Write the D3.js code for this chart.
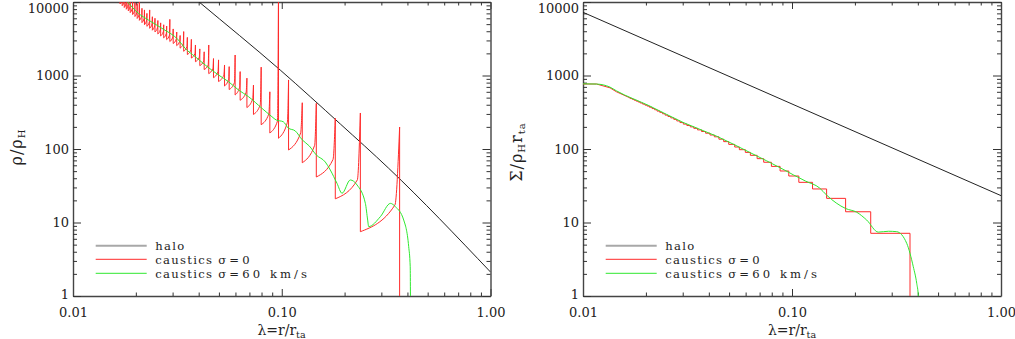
<!DOCTYPE html>
<html>
<head>
<meta charset="utf-8">
<script src="https://cdn.jsdelivr.net/npm/d3@7/dist/d3.min.js"></script>
<style>
  body { margin: 0; background: #fff; }
  svg text { font-family: "DejaVu Serif", serif; fill: #222; }
</style>
</head>
<body>
<svg id="chart" width="1015" height="339"></svg>
<script>
// ---- values ----
const xTickValues = [0.01, 0.1, 1];
const xTickLabels = ["0.01", "0.10", "1.00"];
const yTickValues = [1, 10, 100, 1000, 10000];
const yTickLabels = ["1", "10", "100", "1000", "10000"];
const legendLabels = ["halo", "caustics σ=0", "caustics σ=60 km/s"];

// left panel: rho / rho_H
const haloRhoLam = [0.035, 0.0402, 0.0983, 0.1908, 0.3243, 1.0];
const haloRho = [13900, 10000, 1188, 219, 55.1, 2.12];

// caustic radii, spike heights, value just outside each caustic, value shortly before the next spike
const causticLam = [0.0168, 0.0172, 0.0176, 0.018, 0.0184, 0.0188, 0.0193, 0.0198, 0.0203, 0.0208,
  0.0214, 0.022, 0.0226, 0.0233, 0.024, 0.0247, 0.0255, 0.0263, 0.0272, 0.0281,
  0.0291, 0.0302, 0.0314, 0.0326, 0.0339, 0.0353, 0.0369, 0.0386, 0.0405, 0.0425,
  0.0447, 0.0471, 0.0498, 0.0532, 0.056, 0.0598, 0.0632, 0.0681, 0.0732, 0.0797,
  0.0877, 0.0965, 0.1078, 0.1254, 0.1464, 0.1805, 0.238, 0.367];
const rhoSpikeTop = [14000, 13000, 12000, 11000, 12500, 11000, 10500, 9800, 9500, 13000,
  8200, 7800, 7000, 7800, 6300, 6000, 5600, 5200, 4900, 4700,
  5800, 4300, 3900, 3500, 3960, 3300, 3100, 2600, 2300, 2100,
  2600, 1700, 1630, 1390, 1320, 1900, 1130, 920, 740, 1300,
  600, 20000, 870, 426, 418, 262, 309, 199];
const rhoDropLow = [9400, 8900, 8420, 7970, 7560, 7175, 6745, 6347, 5975, 5630,
  5245, 4914, 4656, 4385, 4130, 3908, 3665, 3450, 3250, 3074,
  2897, 2723, 2546, 2357, 2135, 1930, 1727, 1541, 1361, 1205,
  1060, 933, 828, 719, 644, 543, 460, 366, 295, 214,
  165, 140, 97, 65, 41.6, 21, 7.5, 0.5];
const rhoPreSpike = [10800, 10200, 9700, 9150, 8700, 8250, 7760, 7300, 6870, 6470,
  6030, 5650, 5350, 5040, 4750, 4490, 4210, 3970, 3740, 3540,
  3330, 3130, 2930, 2710, 2460, 2220, 1990, 1770, 1570, 1390,
  1250, 1120, 1010, 890, 800, 690, 590, 480, 400, 300,
  240, 230, 165, 112, 72, 38, 17.3];

const smoothRhoLam = [0.01795, 0.02057, 0.02297, 0.02664, 0.03199, 0.03445, 0.03847, 0.04297, 0.04978, 0.05558,
  0.06208, 0.06932, 0.08035, 0.08974, 0.09411, 0.10167, 0.10744, 0.11611, 0.12543, 0.13549,
  0.14638, 0.16167, 0.17085, 0.18394, 0.19442, 0.21311, 0.22947, 0.25153, 0.25797, 0.26081,
  0.29674, 0.33151, 0.35031, 0.38393, 0.40561, 0.4125, 0.4135, 0.414];
const smoothRho = [10640, 7020, 5690, 4390, 3040, 2345, 1803, 1390, 1016, 824,
  635, 515, 358, 275, 248, 235, 193, 176, 133, 110,
  83, 66.5, 51.8, 34.1, 25.0, 37.9, 32.4, 18.2, 10.8, 8.8,
  12.0, 18.2, 16.4, 10.8, 4.7, 2.5, 1.0, 0.5];

// right panel: Sigma / (rho_H r_ta)
const haloSigLam = [0.01, 1.0];
const haloSig = [7240, 23.2];
const sigInnerLam = [0.01, 0.0116, 0.01346, 0.01443, 0.0168];
const sigInner = [766, 766, 680, 602, 495];
// plateau level between causticLam[i] and causticLam[i+1]
const sigStep = [488, 474, 460, 447, 435, 422, 408, 395, 383, 370,
  355, 342, 328, 315, 302, 289, 277, 265, 253, 241,
  229, 218, 209, 200, 191, 182, 173, 164, 155, 146.5,
  136, 126, 115.5, 106.4, 97.9, 89.9, 82.0, 73.9, 66.0, 58.0,
  50.2, 42.9, 35.2, 28.6, 21.3, 14.0, 7.13];
const smoothSigLam = [0.01, 0.0116, 0.01346, 0.01443, 0.02085, 0.0301, 0.04345, 0.0627, 0.0906, 0.1015,
  0.1163, 0.1355, 0.1466, 0.1805, 0.204, 0.2277, 0.2588, 0.29, 0.317, 0.3539,
  0.3805, 0.3951, 0.4022, 0.4035];
const smoothSig = [770, 765, 695, 620, 385, 230, 150, 90, 53, 44.5,
  36.5, 29.5, 23.5, 15.5, 13.8, 10.8, 7.4, 7.6, 7.5, 5.21,
  2.5, 1.49, 1.0, 0.5];

// ---- layout ----
const svg = d3.select("#chart");
const yTop = 2, yBot = 296;
const y = d3.scaleLog().domain([1, 10000]).range([yBot, yTop]);
const xL = d3.scaleLog().domain([0.01, 1]).range([73, 490.5]);
const xR = d3.scaleLog().domain([0.01, 1]).range([583, 1001]);

const colHalo = "#222", colRed = "#ff2a2a", colGreen = "#2fe82f";

const minorX = [];
xTickValues.slice(0, -1).forEach(d => { for (let m = 2; m < 10; m++) minorX.push(d * m); });
const minorY = [];
yTickValues.slice(0, -1).forEach(d => { for (let m = 2; m < 10; m++) minorY.push(d * m); });

function drawFrame(x) {
  const [x0, x1] = x.range();
  const g = svg.append("g");
  function ax(gen, tr, domain) {
    const a = g.append("g").attr("transform", tr).call(gen);
    a.selectAll(".tick line").attr("stroke", "#333");
    if (domain) a.select(".domain").attr("stroke", "#444").attr("stroke-width", 1.4);
    else a.select(".domain").remove();
    a.selectAll("text").style("font-family", '"DejaVu Serif", serif').style("font-size", "13px").attr("fill", "#222");
    return a;
  }
  ax(d3.axisBottom(x).tickValues(xTickValues).tickFormat((d, i) => xTickLabels[i])
    .tickSizeInner(-7).tickSizeOuter(0).tickPadding(11.5), `translate(0,${yBot})`, true);
  ax(d3.axisBottom(x).tickValues(minorX).tickFormat("").tickSizeInner(-3.5).tickSizeOuter(0), `translate(0,${yBot})`, false);
  ax(d3.axisTop(x).tickValues(xTickValues).tickFormat("").tickSizeInner(-7).tickSizeOuter(0), `translate(0,${yTop})`, true);
  ax(d3.axisTop(x).tickValues(minorX).tickFormat("").tickSizeInner(-3.5).tickSizeOuter(0), `translate(0,${yTop})`, false);
  const yl = ax(d3.axisLeft(y).tickValues(yTickValues).tickFormat((d, i) => yTickLabels[i])
    .tickSizeInner(-8).tickSizeOuter(0).tickPadding(4), `translate(${x0},0)`, true);
  // keep the end labels inside the frame, as in the original
  yl.selectAll(".tick text").attr("y", d => d === 10000 ? 6.5 : (d === 1 ? -2 : 0));
  ax(d3.axisLeft(y).tickValues(minorY).tickFormat("").tickSizeInner(-4).tickSizeOuter(0), `translate(${x0},0)`, false);
  ax(d3.axisRight(y).tickValues(yTickValues).tickFormat("").tickSizeInner(-8).tickSizeOuter(0), `translate(${x1},0)`, true);
  ax(d3.axisRight(y).tickValues(minorY).tickFormat("").tickSizeInner(-4).tickSizeOuter(0), `translate(${x1},0)`, false);
}

function plotArea(x, id) {
  const [x0, x1] = x.range();
  svg.append("clipPath").attr("id", id).append("rect")
    .attr("x", x0).attr("y", yTop).attr("width", x1 - x0).attr("height", yBot - yTop);
  return svg.append("g").attr("clip-path", `url(#${id})`);
}

function drawLegend(x) {
  const lx = x.range()[0] + 22.7;
  const rows = [245.7, 259.3, 273.3];
  const styles = [["#a8a8a8", 2], [colRed, 1], [colGreen, 1]];
  const g = svg.append("g");
  legendLabels.forEach((lab, i) => {
    g.append("line").attr("x1", lx).attr("x2", lx + 51).attr("y1", rows[i]).attr("y2", rows[i])
      .attr("stroke", styles[i][0]).attr("stroke-width", styles[i][1]);
    const t = g.append("text").attr("x", lx + 59.6).attr("y", rows[i] + 4.3)
      .style("font-size", "11.6px").style("letter-spacing", "1.3px");
    const parts = lab.split("σ");
    t.append("tspan").text(parts[0]);
    if (parts.length > 1) t.append("tspan").style("letter-spacing", "3.1px").text("σ" + parts[1]);
  });
}

function xTitle(cx) {
  const t = svg.append("text").attr("x", cx).attr("y", 334.5).attr("text-anchor", "middle").style("font-size", "14px");
  t.append("tspan").text("λ=r/r");
  t.append("tspan").attr("dy", 3).style("font-size", "9.5px").text("ta");
}

// ---- left panel ----
drawFrame(xL);
const gL = plotArea(xL, "clipL");
const lineLin = x => d3.line().x(d => x(d[0])).y(d => y(d[1]));
const lineMono = x => d3.line().x(d => x(d[0])).y(d => y(d[1])).curve(d3.curveMonotoneX);

gL.append("path").attr("d", lineMono(xL)(d3.zip(haloRhoLam, haloRho)))
  .attr("fill", "none").attr("stroke", colHalo).attr("stroke-width", 1);

let redD = "";
causticLam.forEach((lam, k) => {
  redD += lineLin(xL)([[lam, rhoSpikeTop[k]], [lam, rhoDropLow[k]]]);
  if (k < causticLam.length - 1) {
    const next = causticLam[k + 1];
    const preLam = Math.exp(Math.log(lam) + 0.88 * (Math.log(next) - Math.log(lam)));
    redD += lineMono(xL)([[lam, rhoDropLow[k]], [preLam, rhoPreSpike[k]], [next, rhoSpikeTop[k + 1]]]);
  }
});
gL.append("path").attr("d", redD).attr("fill", "none").attr("stroke", colRed).attr("stroke-width", 1);

gL.append("path").attr("d", lineMono(xL)(d3.zip(smoothRhoLam, smoothRho)))
  .attr("fill", "none").attr("stroke", colGreen).attr("stroke-width", 1);

drawLegend(xL);
xTitle(281.5);

const ytL = svg.append("text").attr("transform", "translate(22,147) rotate(-90)")
  .attr("text-anchor", "middle").style("font-size", "16px").style("letter-spacing", "1px");
ytL.append("tspan").text("ρ/ρ");
ytL.append("tspan").attr("dy", 3).style("font-size", "10px").text("H");

// ---- right panel ----
drawFrame(xR);
const gR = plotArea(xR, "clipR");

gR.append("path").attr("d", lineLin(xR)(d3.zip(haloSigLam, haloSig)))
  .attr("fill", "none").attr("stroke", colHalo).attr("stroke-width", 1);

const stairs = d3.zip(sigInnerLam, sigInner);
sigStep.forEach((lev, i) => {
  stairs.push([causticLam[i], lev]);
  stairs.push([causticLam[i + 1], lev]);
});
stairs.push([causticLam[causticLam.length - 1], 0.5]);
gR.append("path").attr("d", lineLin(xR)(stairs))
  .attr("fill", "none").attr("stroke", colRed).attr("stroke-width", 1);

gR.append("path").attr("d", lineMono(xR)(d3.zip(smoothSigLam, smoothSig)))
  .attr("fill", "none").attr("stroke", colGreen).attr("stroke-width", 1);

drawLegend(xR);
xTitle(792);

const ytR = svg.append("text").attr("transform", "translate(522,152) rotate(-90)")
  .attr("text-anchor", "middle").style("font-size", "16px").style("letter-spacing", "1px");
ytR.append("tspan").text("Σ/ρ");
ytR.append("tspan").attr("dy", 3).style("font-size", "10px").text("H");
ytR.append("tspan").attr("dy", -3).text("r");
ytR.append("tspan").attr("dy", 3).style("font-size", "10px").text("ta");
</script>
</body>
</html>
